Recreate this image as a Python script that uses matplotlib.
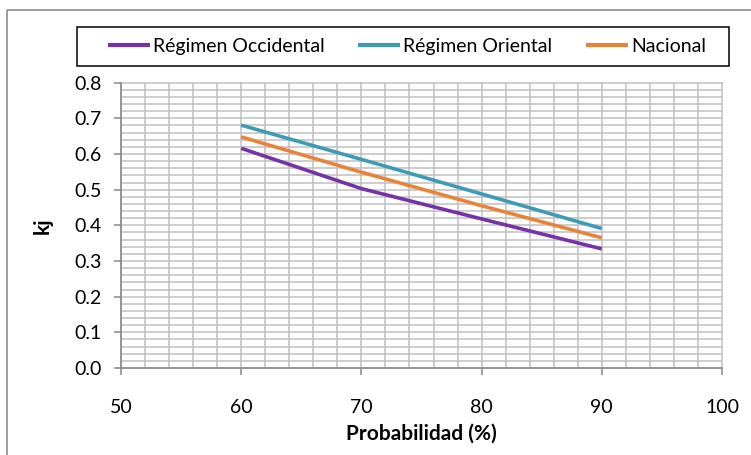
import matplotlib
matplotlib.use("Agg")
import matplotlib.pyplot as plt
from matplotlib.ticker import MultipleLocator, FormatStrFormatter
from matplotlib.patches import Rectangle
from matplotlib.lines import Line2D

plt.rcParams['font.family'] = ['Lato', 'DejaVu Sans']

probabilidad = [60, 70, 80, 90]
occidental = [0.616, 0.503, 0.418, 0.334]
oriental = [0.681, 0.585, 0.488, 0.391]
nacional = [0.648, 0.549, 0.455, 0.365]
series_names = ["Régimen Occidental", "Régimen Oriental", "Nacional"]
colors = ["#7533a6", "#3f9bb5", "#e8843a"]

W, H = 751, 455
fig = plt.figure(figsize=(W / 100, H / 100), dpi=100)
L, R, T, B = 121, 722, 82.7, 368
ax = fig.add_axes([L / W, 1 - B / H, (R - L) / W, (B - T) / H])

for ys, c, n in zip([occidental, oriental, nacional], colors, series_names):
    ax.plot(probabilidad, ys, color=c, lw=2.6, label=n, solid_capstyle='butt')

ax.set_xlim(50, 100)
ax.set_ylim(0, 0.8)
ax.xaxis.set_major_locator(MultipleLocator(10))
ax.xaxis.set_minor_locator(MultipleLocator(2))
ax.yaxis.set_major_locator(MultipleLocator(0.1))
ax.yaxis.set_minor_locator(MultipleLocator(0.02))
ax.yaxis.set_major_formatter(FormatStrFormatter('%.1f'))
ax.grid(which='both', color='#c0c0c0', lw=1.1)
for gl in ax.get_xgridlines() + ax.get_ygridlines():
    gl.set_clip_on(False)
ax.set_axisbelow(True)
for s in ['top', 'right']:
    ax.spines[s].set_visible(False)
for s in ['left', 'bottom']:
    ax.spines[s].set_color('#868686')
    ax.spines[s].set_linewidth(1.1)
ax.tick_params(which='major', direction='out', length=5, width=1.1, color='#868686',
               labelsize=14, labelcolor='black')
ax.tick_params(axis='x', pad=17)
ax.tick_params(axis='y', pad=9)
ax.tick_params(which='minor', length=0)
ax.set_xlabel("Probabilidad (%)", fontsize=15, fontweight='bold')
ax.set_ylabel("kj", fontsize=15, fontweight='bold')
ax.xaxis.set_label_coords(0.5, -(424 - B) / (B - T))
ax.yaxis.set_label_coords(-(L - 53) / (R - L), 0.5)

handles, labels = ax.get_legend_handles_labels()
leg = fig.legend(handles, labels, loc='center',
                 bbox_to_anchor=(407 / W, 1 - 46.5 / H),
                 ncol=3, frameon=False, fontsize=14,
                 handlelength=2.15, handletextpad=0.15, columnspacing=1.75,
                 borderpad=0.0)
for lh in leg.get_lines():
    lh.set_linewidth(3.0)

fig.patches.append(Rectangle((77 / W, 1 - 66 / H), (729 - 77) / W, (66 - 27) / H,
                             transform=fig.transFigure, fill=False,
                             edgecolor='black', lw=1.1))

fig.lines.append(Line2D([7 / W, 7 / W, 1.0], [0.0, 1 - 10 / H, 1 - 10 / H],
                        transform=fig.transFigure, color='#8c8c8c', lw=1.2))

fig.savefig("out.png", dpi=100)
